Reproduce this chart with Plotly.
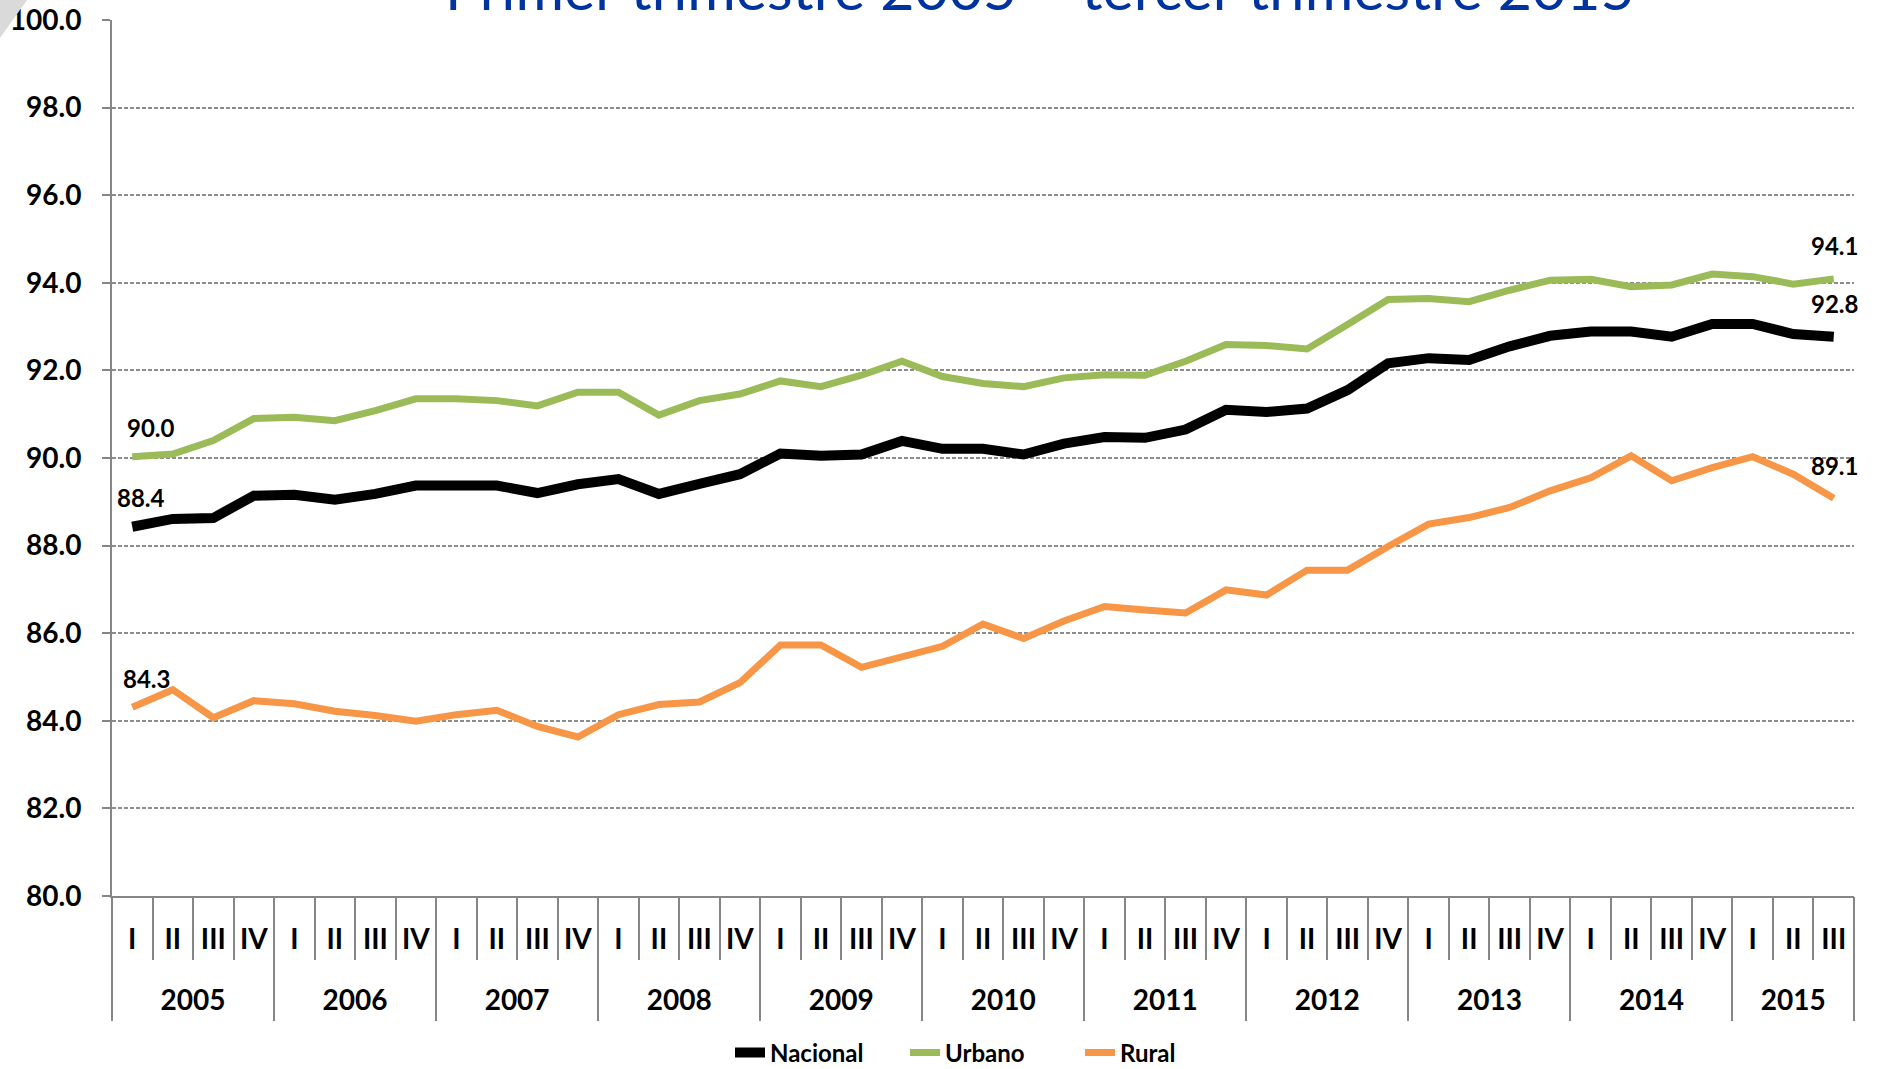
import plotly.graph_objects as go

# ---------------- data ----------------
years = ["2005", "2006", "2007", "2008", "2009", "2010",
         "2011", "2012", "2013", "2014", "2015"]
quarters = ["I", "II", "III", "IV"]

year_labels = [y for y in years for q in quarters][:43]
quarter_labels = [q for y in years for q in quarters][:43]

nacional = [88.43, 88.61, 88.63, 89.14, 89.16, 89.05, 89.18, 89.37,
            89.37, 89.37, 89.20, 89.40, 89.52, 89.18, 89.41, 89.63,
            90.10, 90.05, 90.08, 90.39, 90.21, 90.21, 90.08, 90.33,
            90.48, 90.46, 90.65, 91.10, 91.05, 91.13, 91.55, 92.16,
            92.28, 92.24, 92.55, 92.79, 92.89, 92.89, 92.77, 93.06,
            93.06, 92.83, 92.77]

urbano = [90.03, 90.09, 90.40, 90.90, 90.93, 90.85, 91.08, 91.35,
          91.35, 91.31, 91.19, 91.50, 91.50, 90.98, 91.31, 91.46,
          91.76, 91.63, 91.89, 92.21, 91.86, 91.70, 91.63, 91.83,
          91.90, 91.89, 92.21, 92.59, 92.57, 92.49, 93.05, 93.62,
          93.64, 93.57, 93.83, 94.06, 94.08, 93.91, 93.95, 94.20,
          94.14, 93.97, 94.09]

rural = [84.31, 84.71, 84.07, 84.46, 84.39, 84.22, 84.12, 83.99,
         84.14, 84.24, 83.87, 83.63, 84.14, 84.37, 84.43, 84.87,
         85.73, 85.73, 85.22, 85.45, 85.70, 86.21, 85.88, 86.28,
         86.61, 86.53, 86.46, 86.99, 86.87, 87.44, 87.44, 87.98,
         88.49, 88.64, 88.87, 89.25, 89.55, 90.05, 89.48, 89.78,
         90.03, 89.63, 89.08]

series_names = ["Nacional", "Urbano", "Rural"]
series_values = [nacional, urbano, rural]
series_colors = ["#000000", "#9BBB59", "#F79646"]
series_widths = [10, 7, 7]
series_xaxes = ["x", "x", "x2"]   # x2 carries the year level of the category axis
start_label_dx = [9, 19, 14]      # horizontal nudge of the first-value labels (px)

title_text = "Primer trimestre 2005 – tercer trimestre 2015"

# ---------------- derived positions (category index scale) ----------------
n = len(quarter_labels)
xpos = list(range(n))
quarter_bounds = [i - 0.5 for i in range(n + 1)]
year_starts = [i for i in range(n) if i == 0 or year_labels[i] != year_labels[i - 1]]
year_bounds = [s - 0.5 for s in year_starts] + [n - 0.5]
year_centers = [(year_bounds[k] + year_bounds[k + 1]) / 2 for k in range(len(year_starts))]
year_text = [year_labels[s] for s in year_starts]

# ---------------- figure ----------------
FONT = "Lato"
GREY = "#868686"
W, H = 1881, 1069
ML, MR, MT, MB = 112, 27, 20, 173

fig = go.Figure()
for name, vals, col, w, xa in zip(series_names, series_values, series_colors,
                                  series_widths, series_xaxes):
    fig.add_trace(go.Scatter(
        x=xpos, y=vals, name=name, mode="lines", xaxis=xa, yaxis="y",
        line=dict(color=col, width=w),
        hoverinfo="skip",
    ))

annotations = []
last = n - 1
for vals, dx in zip(series_values, start_label_dx):
    annotations.append(dict(
        x=0, y=vals[0], xref="x", yref="y", text=f"{vals[0]:.1f}",
        showarrow=False, xshift=dx, yshift=29,
        font=dict(family=FONT, size=24, color="#000000", weight="bold")))
    annotations.append(dict(
        x=last, y=vals[last], xref="x", yref="y", text=f"{vals[last]:.1f}",
        showarrow=False, xshift=1, yshift=33,
        font=dict(family=FONT, size=24, color="#000000", weight="bold")))

annotations.append(dict(
    x=0.533, y=1, xref="paper", yref="paper", yanchor="bottom",
    text=title_text, showarrow=False, yshift=-5,
    font=dict(family=FONT, size=59, color="#0033A0")))

pw, ph = W - ML - MR, H - MT - MB

def px(xp):
    return (xp - ML) / pw

def py(yp):
    return (H - MB - yp) / ph

fig.update_layout(
    width=W, height=H,
    margin=dict(l=ML, r=MR, t=MT, b=MB, autoexpand=False),
    paper_bgcolor="white", plot_bgcolor="white",
    font=dict(family=FONT, color="#000000"),
    showlegend=True,
    legend=dict(orientation="h", x=px(730), xanchor="left",
                y=py(1053), yanchor="middle",
                entrywidth=130, entrywidthmode="pixels",
                font=dict(family=FONT, size=24, color="#000000", weight="bold"),
                bgcolor="rgba(0,0,0,0)"),
    annotations=annotations,
    shapes=[dict(type="path", xref="paper", yref="paper",
                 path=f"M {px(0)},{py(0)} L {px(27)},{py(0)} L {px(0)},{py(38)} Z",
                 fillcolor="#dadada", line=dict(width=0), layer="above")],
    xaxis=dict(
        range=[-0.5, n - 0.5], automargin=False,
        tickmode="array", tickvals=xpos, ticktext=quarter_labels,
        ticks="", ticklabelstandoff=17,
        showline=True, linecolor=GREY, linewidth=2,
        minor=dict(tickmode="array", tickvals=quarter_bounds, ticks="outside",
                   ticklen=62, tickcolor=GREY, tickwidth=1.5, showgrid=False),
        tickfont=dict(family=FONT, size=28, color="#000000", weight="bold"),
        showgrid=False, zeroline=False, fixedrange=True,
    ),
    xaxis2=dict(
        overlaying="x", anchor="y", side="bottom",
        range=[-0.5, n - 0.5], automargin=False,
        tickmode="array", tickvals=year_centers, ticktext=year_text,
        ticks="", ticklabelstandoff=85,
        showline=False,
        minor=dict(tickmode="array", tickvals=year_bounds, ticks="outside",
                   ticklen=124, tickcolor=GREY, tickwidth=1.5, showgrid=False),
        tickfont=dict(family=FONT, size=28, color="#000000", weight="bold"),
        showgrid=False, zeroline=False, fixedrange=True,
    ),
    yaxis=dict(
        range=[80, 100], tick0=80, dtick=2, tickformat=".1f", automargin=False,
        showgrid=True, gridcolor="#8c8c8c", griddash="4px,2px", gridwidth=1.8,
        showline=True, linecolor=GREY, linewidth=2,
        ticks="outside", ticklen=8, tickcolor=GREY, tickwidth=1.5,
        ticklabelstandoff=15,
        tickfont=dict(family=FONT, size=28, color="#000000", weight="bold"),
        zeroline=False, fixedrange=True,
    ),
)

fig.write_html(
    "out.html",
    config={"displayModeBar": False},
    post_script="document.body.style.margin='0';document.body.style.overflow='hidden';",
)
